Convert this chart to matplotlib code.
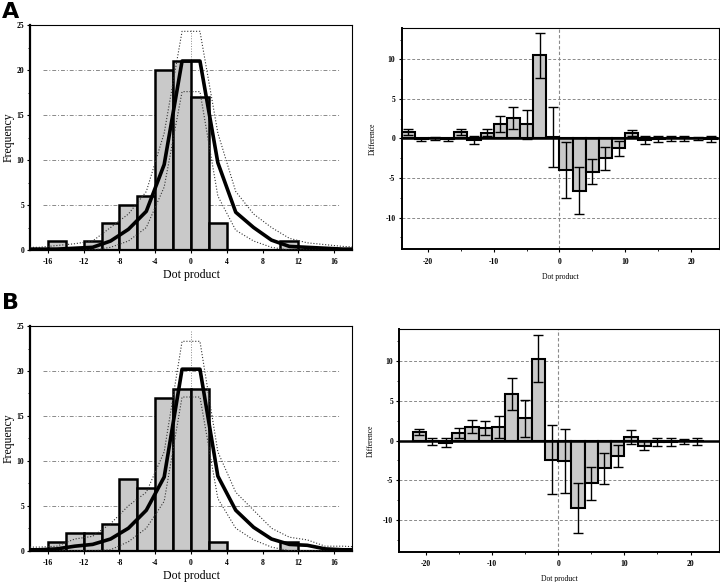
import numpy as np
import matplotlib
matplotlib.use("Agg")
from matplotlib import pyplot as plt
from matplotlib.ticker import MultipleLocator

plt.rcParams['font.family'] = ['Liberation Serif', 'DejaVu Serif']
plt.rcParams['axes.unicode_minus'] = False

# ---- left panels: histogram of dot products (bin width 2) ----
hist_centers = [-17, -15, -13, -11, -9, -7, -5, -3, -1, 1, 3, 5, 7, 9, 11, 13, 15, 17]
counts_A = [0, 1, 0, 1, 3, 5, 6, 20, 21, 17, 3, 0, 0, 0, 1, 0, 0, 0]
counts_B = [0, 1, 2, 2, 3, 8, 7, 17, 18, 18, 1, 0, 0, 0, 1, 0, 0, 0]

# model curve (mean, upper, lower) at bin centres, padded one bin either side
curve_x = [-19, -17, -15, -13, -11, -9, -7, -5, -3, -1, 1, 3, 5, 7, 9, 11, 13, 15, 17, 19]
mean_A = [0.1, 0.1, 0.1, 0.2, 0.3, 1.0, 2.3, 4.3, 9.5, 21.0, 21.0, 9.7, 4.2, 2.5, 1.1, 0.4, 0.3, 0.2, 0.1, 0.1]
upper_A = [0.3, 0.3, 0.5, 0.7, 1.0, 2.5, 4.0, 6.5, 13.0, 24.3, 24.3, 13.0, 6.5, 4.0, 2.5, 1.3, 0.8, 0.6, 0.4, 0.3]
lower_A = [0, 0, 0, 0, 0, 0.3, 1.0, 2.5, 7.0, 17.6, 17.6, 6.0, 2.2, 1.0, 0.3, 0, 0, 0, 0, 0]
mean_B = [0.1, 0.1, 0.2, 0.5, 0.7, 1.3, 2.5, 4.5, 8.2, 20.2, 20.2, 8.3, 4.5, 2.6, 1.3, 0.7, 0.6, 0.2, 0.1, 0.1]
upper_B = [0.4, 0.4, 0.5, 1.3, 1.6, 3.0, 5.0, 6.5, 11.0, 23.3, 23.3, 11.0, 6.5, 4.5, 2.5, 1.5, 1.2, 0.5, 0.5, 0.4]
lower_B = [0, 0, 0, 0, 0, 0.1, 1.0, 2.5, 5.5, 17.1, 17.1, 5.8, 2.5, 1.2, 0.4, 0, 0, 0, 0, 0]

# ---- right panels: observed - expected difference with errors ----
diff_x_A = [-23, -21, -19, -17, -15, -13, -11, -9, -7, -5, -3, -1,
            1, 3, 5, 7, 9, 11, 13, 15, 17, 19, 21, 23]
diff_A = [0.85, -0.1, 0.0, -0.1, 0.85, -0.2, 0.7, 1.8, 2.6, 1.8, 10.5, 0.2,
          -4.0, -6.6, -4.2, -2.5, -1.25, 0.7, -0.2, -0.1, 0.0, 0.0, 0.0, -0.1]
err_A = [0.4, 0.2, 0.2, 0.2, 0.4, 0.5, 0.45, 1.0, 1.4, 1.85, 2.85, 3.75,
         3.5, 3.0, 1.55, 1.45, 0.95, 0.4, 0.5, 0.4, 0.35, 0.3, 0.15, 0.4]
diff_x_B = [-21, -19, -17, -15, -13, -11, -9, -7, -5, -3, -1,
            1, 3, 5, 7, 9, 11, 13, 15, 17, 19, 21]
diff_B = [1.05, -0.1, -0.25, 0.95, 1.75, 1.55, 1.7, 5.9, 2.8, 10.3, -2.4,
          -2.6, -8.5, -5.4, -3.5, -1.9, 0.45, -0.65, -0.2, -0.2, -0.1, -0.1]
err_B = [0.35, 0.45, 0.6, 0.6, 0.8, 0.9, 1.4, 2.0, 2.3, 2.95, 4.3,
         4.0, 3.15, 2.1, 1.95, 1.4, 0.85, 0.6, 0.5, 0.5, 0.35, 0.4]

BAR = '#c9c9c9'
GRID = '#8a8a8a'


def boldTicks(ax):
    for lab in ax.get_xticklabels() + ax.get_yticklabels():
        lab.set_fontweight('bold')


def histPanel(ax, counts, mean, upper, lower):
    for y in [5, 10, 15, 20]:
        ax.axhline(y, xmin=0.04, xmax=0.96, color=GRID, lw=0.7, ls=(0, (4, 2, 1, 2)), zorder=0)
    ax.axvline(0, ymax=24.4 / 25, color=GRID, lw=0.7, ls=':', zorder=0)
    ax.bar(hist_centers, counts, width=2, color=BAR, edgecolor='black', lw=1.8, zorder=2)
    ax.plot(curve_x, upper, color='#333333', lw=0.8, ls=':', zorder=3)
    ax.plot(curve_x, lower, color='#333333', lw=0.8, ls=':', zorder=3)
    ax.plot(curve_x, mean, color='black', lw=2.6, zorder=4)
    ax.set_xlim(-18, 18)
    ax.set_ylim(0, 25)
    ax.xaxis.set_major_locator(MultipleLocator(4))
    ax.yaxis.set_major_locator(MultipleLocator(5))
    ax.yaxis.set_minor_locator(MultipleLocator(2.5))
    ax.tick_params(labelsize=5.5, length=2.5, width=0.8, pad=1.5)
    ax.tick_params(axis='x', pad=3.5)
    ax.tick_params(which='minor', length=1.5, width=0.6)
    boldTicks(ax)
    ax.set_xlabel("Dot product", fontsize=8.5, labelpad=2)
    ax.set_ylabel("Frequency", fontsize=8.5, labelpad=1.5)
    for s in ['left', 'bottom']:
        ax.spines[s].set_linewidth(1.6)
    for s in ['top', 'right']:
        ax.spines[s].set_linewidth(0.8)


def diffPanel(ax, xs, vals, errs):
    for y in [-10, -5, 5, 10]:
        ax.axhline(y, color=GRID, lw=0.7, ls=(0, (3, 2)), zorder=0)
    ax.axvline(0, color=GRID, lw=0.8, ls=(0, (3, 2)), zorder=0)
    ax.bar(xs, vals, width=2, color=BAR, edgecolor='black', lw=1.5, zorder=2)
    ax.errorbar(xs, vals, yerr=errs, fmt='none', ecolor='black', elinewidth=1.0,
                capsize=3.5, capthick=1.0, zorder=3)
    ax.axhline(0, color='black', lw=1.8, zorder=4)
    ax.set_xlim(-24, 24.3)
    ax.set_ylim(-14, 14)
    ax.xaxis.set_major_locator(MultipleLocator(10))
    ax.xaxis.set_minor_locator(MultipleLocator(5))
    ax.yaxis.set_major_locator(MultipleLocator(5))
    ax.yaxis.set_minor_locator(MultipleLocator(2.5))
    ax.tick_params(labelsize=5.5, length=2.5, width=0.8, pad=2)
    ax.tick_params(axis='x', pad=3.5)
    ax.tick_params(which='minor', length=1.5, width=0.6)
    boldTicks(ax)
    ax.set_xlabel("Dot product", fontsize=5.5, labelpad=5)
    ax.set_ylabel("Difference", fontsize=5.5, labelpad=6)
    for s in ['left', 'bottom']:
        ax.spines[s].set_linewidth(1.4)
    for s in ['top', 'right']:
        ax.spines[s].set_linewidth(0.8)


fig = plt.figure(figsize=(7.2, 5.82), dpi=100)

axA1 = fig.add_axes([0.0417, 0.5704, 0.4472, 0.3866])
axA2 = fig.add_axes([0.5579, 0.5717, 0.4410, 0.3808])
axB1 = fig.add_axes([0.0417, 0.0538, 0.4472, 0.3860])
axB2 = fig.add_axes([0.5546, 0.0520, 0.4440, 0.3820])

histPanel(axA1, counts_A, mean_A, upper_A, lower_A)
histPanel(axB1, counts_B, mean_B, upper_B, lower_B)
diffPanel(axA2, diff_x_A, diff_A, err_A)
diffPanel(axB2, diff_x_B, diff_B, err_B)

fig.text(0.003, 0.997, "A", fontsize=16, fontweight='bold', family='DejaVu Sans', va='top', ha='left')
fig.text(0.003, 0.497, "B", fontsize=16, fontweight='bold', family='DejaVu Sans', va='top', ha='left')

fig.savefig("out.png", dpi=100)
